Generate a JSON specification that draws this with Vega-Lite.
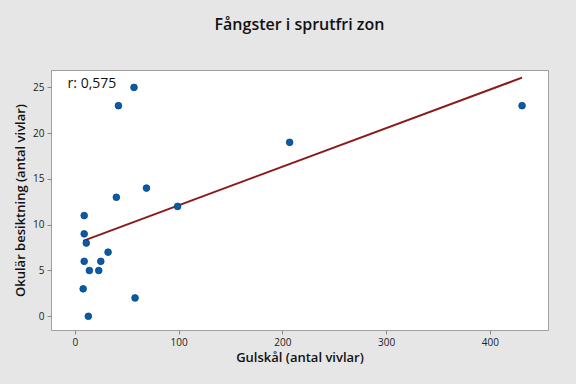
{
  "$schema": "https://vega.github.io/schema/vega-lite/v6.json",
  "width": 497,
  "height": 260,
  "autosize": {"type": "none"},
  "padding": {"left": 51, "top": 70, "right": 28, "bottom": 54},
  "background": "#e6e6e6",
  "title": {
    "text": "Fångster i sprutfri zon",
    "font": "Open Sans",
    "fontSize": 16,
    "fontWeight": 600,
    "color": "#111111",
    "offset": 37,
    "anchor": "middle"
  },
  "config": {
    "view": {"stroke": "#a0a0a0", "strokeWidth": 1, "fill": "white"},
    "axis": {
      "grid": false,
      "domain": false,
      "tickColor": "#8a8a8a",
      "tickSize": 4,
      "labelFont": "Open Sans",
      "labelFontSize": 10,
      "labelColor": "#222222",
      "titleFont": "Open Sans",
      "titleFontSize": 13,
      "titleFontWeight": 600,
      "titleColor": "#111111"
    }
  },
  "datasets": {
    "pts": [
      {"gul": 57, "oku": 25},
      {"gul": 42, "oku": 23},
      {"gul": 69, "oku": 14},
      {"gul": 40, "oku": 13},
      {"gul": 99, "oku": 12},
      {"gul": 9, "oku": 11},
      {"gul": 9, "oku": 9},
      {"gul": 11, "oku": 8},
      {"gul": 32, "oku": 7},
      {"gul": 9, "oku": 6},
      {"gul": 25, "oku": 6},
      {"gul": 14, "oku": 5},
      {"gul": 23, "oku": 5},
      {"gul": 8, "oku": 3},
      {"gul": 58, "oku": 2},
      {"gul": 13, "oku": 0},
      {"gul": 207, "oku": 19},
      {"gul": 431, "oku": 23}
    ]
  },
  "data": {"name": "pts"},
  "layer": [
    {
      "transform": [{"regression": "oku", "on": "gul"}],
      "mark": {"type": "line", "color": "#8b1a1a", "strokeWidth": 2},
      "encoding": {
        "x": {"field": "gul", "type": "quantitative"},
        "y": {"field": "oku", "type": "quantitative"}
      }
    },
    {
      "mark": {"type": "point", "filled": true, "color": "#0b5aa8", "size": 45, "opacity": 1, "stroke": "#08457f", "strokeWidth": 0.8},
      "encoding": {
        "x": {
          "field": "gul",
          "type": "quantitative",
          "title": "Gulskål (antal vivlar)",
          "scale": {"domain": [-23, 456], "nice": false, "zero": false},
          "axis": {"values": [0, 100, 200, 300, 400], "titlePadding": 4, "labelPadding": 3}
        },
        "y": {
          "field": "oku",
          "type": "quantitative",
          "title": "Okulär besiktning (antal vivlar)",
          "scale": {"domain": [-1.5, 26.9], "nice": false, "zero": false},
          "axis": {"values": [0, 5, 10, 15, 20, 25], "titlePadding": 5, "labelPadding": 3}
        }
      }
    },
    {
      "data": {"values": [{"label": "r: 0,575"}]},
      "mark": {"type": "text", "align": "left", "baseline": "middle", "font": "Open Sans", "fontSize": 14, "fontWeight": 500, "color": "#111111"},
      "encoding": {
        "x": {"datum": -7, "type": "quantitative"},
        "y": {"datum": 25.4, "type": "quantitative"},
        "text": {"field": "label"}
      }
    }
  ]
}
